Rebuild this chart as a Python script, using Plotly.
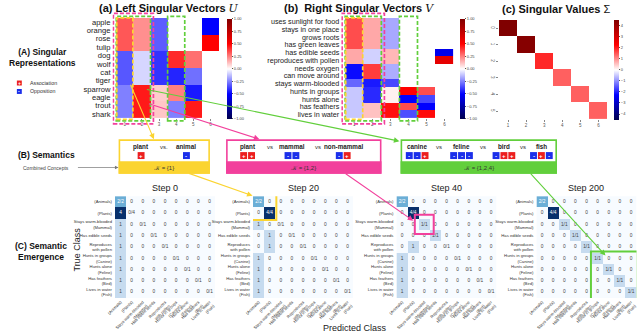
import plotly.graph_objects as go

W, H = 640, 335
FONT = "Liberation Sans, Arial, sans-serif"

# ---------------- data ----------------
u_rows = ["apple", "orange", "rose", "tulip", "dog", "wolf", "cat", "tiger",
          "sparrow", "eagle", "trout", "shark"]
u_cols = [1, 2, 3, 4, 5, 6]
u_vals = [
    [0.33, 0.22, -0.32, 0.00, 0.00, -0.50],
    [0.33, 0.22, -0.32, 0.00, 0.00, -0.50],
    [0.33, 0.22, -0.32, 0.00, 0.00, 0.50],
    [0.33, 0.22, -0.32, 0.00, 0.00, 0.50],
    [-0.33, -0.08, -0.40, 0.42, 0.28, 0.00],
    [-0.33, -0.08, -0.40, 0.42, 0.28, 0.00],
    [-0.33, -0.08, -0.40, -0.43, -0.28, 0.00],
    [-0.33, -0.08, -0.40, -0.43, -0.28, 0.00],
    [-0.25, 0.45, 0.10, 0.25, -0.45, 0.00],
    [-0.25, 0.45, 0.10, 0.25, -0.45, 0.00],
    [-0.25, 0.45, 0.11, -0.25, 0.45, 0.00],
    [-0.25, 0.45, 0.11, -0.25, 0.45, 0.00],
]

v_rows = ["uses sunlight for food", "stays in one place", "grows roots",
          "has green leaves", "has edible seeds", "reproduces with pollen",
          "needs oxygen", "can move around", "stays warm-blooded",
          "hunts in groups", "hunts alone", "has feathers", "lives in water"]
v_cols = [1, 2, 3, 4, 5, 6]
v_vals = [
    [0.35, 0.17, -0.17, 0.00, 0.00, 0.00],
    [0.35, 0.17, -0.17, 0.00, 0.00, 0.00],
    [0.35, 0.17, -0.17, 0.00, 0.00, 0.00],
    [0.35, 0.17, -0.17, 0.00, 0.00, 0.00],
    [0.17, -0.09, 0.14, 0.00, 0.00, -0.55],
    [0.17, -0.09, 0.14, 0.00, 0.00, 0.60],
    [-0.48, 0.38, -0.16, 0.00, 0.00, 0.00],
    [-0.48, 0.38, -0.16, 0.00, 0.00, 0.00],
    [-0.30, -0.45, -0.36, 0.00, 0.00, 0.00],
    [-0.11, -0.42, 0.03, 0.50, 0.35, 0.00],
    [-0.11, -0.42, 0.03, -0.50, -0.36, 0.00],
    [-0.11, 0.12, 0.47, 0.35, -0.50, 0.00],
    [-0.11, 0.12, 0.47, -0.35, 0.48, 0.00],
]

sigma = [4.5, 4.4, 1.9, 1.4, 1.4, 1.4]
sigma_x = [1, 2, 3, 4, 5, 6]
sigma_y = ["0", "1", "2", "3", "4", "5"]

legend_labels = ["Association", "Opposition"]
legend_signs = ["+", "-"]

yellow_concepts = ["plant", "animal"]
yellow_signs = ["+", "-"]
yellow_K = [1]
pink_concepts = ["plant", "mammal", "non-mammal"]
pink_signs = ["++", "--", "-+"]
pink_K = [1, 2]
green_concepts = ["canine", "feline", "bird", "fish"]
green_signs = ["--+", "---", "-++", "-+-"]
green_K = [1, 2, 4]

class_labels = ["(Animals)", "(Plants)", "Stays warm-blooded<br>(Mammal)",
                "Has edible seeds", "Reproduces<br>with pollen",
                "Hunts in groups<br>(Canine)", "Hunts alone<br>(Feline)",
                "Has feathers<br>(Bird)", "Lives in water<br>(Fish)"]
class_totals = [2, 4, 1, 1, 1, 1, 1, 1, 1]
step_names = ["Step 0", "Step 20", "Step 40", "Step 200"]
counts_step0 = [
    [2, 0, 0, 0, 0, 0, 0, 0, 0],
    [4, 0, 0, 0, 0, 0, 0, 0, 0],
    [1, 0, 0, 0, 0, 0, 0, 0, 0],
    [1, 0, 0, 0, 0, 0, 0, 0, 0],
    [1, 0, 0, 0, 0, 0, 0, 0, 0],
    [1, 0, 0, 0, 0, 0, 0, 0, 0],
    [1, 0, 0, 0, 0, 0, 0, 0, 0],
    [1, 0, 0, 0, 0, 0, 0, 0, 0],
    [1, 0, 0, 0, 0, 0, 0, 0, 0],
]
counts_step20 = [
    [2, 0, 0, 0, 0, 0, 0, 0, 0],
    [0, 4, 0, 0, 0, 0, 0, 0, 0],
    [1, 0, 0, 0, 0, 0, 0, 0, 0],
    [0, 1, 0, 0, 0, 0, 0, 0, 0],
    [0, 1, 0, 0, 0, 0, 0, 0, 0],
    [1, 0, 0, 0, 0, 0, 0, 0, 0],
    [1, 0, 0, 0, 0, 0, 0, 0, 0],
    [1, 0, 0, 0, 0, 0, 0, 0, 0],
    [1, 0, 0, 0, 0, 0, 0, 0, 0],
]
counts_step40 = [
    [2, 0, 0, 0, 0, 0, 0, 0, 0],
    [0, 4, 0, 0, 0, 0, 0, 0, 0],
    [0, 0, 1, 0, 0, 0, 0, 0, 0],
    [0, 0, 0, 1, 0, 0, 0, 0, 0],
    [0, 1, 0, 0, 0, 0, 0, 0, 0],
    [1, 0, 0, 0, 0, 0, 0, 0, 0],
    [1, 0, 0, 0, 0, 0, 0, 0, 0],
    [1, 0, 0, 0, 0, 0, 0, 0, 0],
    [1, 0, 0, 0, 0, 0, 0, 0, 0],
]
counts_step200 = [
    [2, 0, 0, 0, 0, 0, 0, 0, 0],
    [0, 4, 0, 0, 0, 0, 0, 0, 0],
    [0, 0, 1, 0, 0, 0, 0, 0, 0],
    [0, 0, 0, 1, 0, 0, 0, 0, 0],
    [0, 0, 0, 0, 1, 0, 0, 0, 0],
    [0, 0, 0, 0, 0, 1, 0, 0, 0],
    [0, 0, 0, 0, 0, 0, 1, 0, 0],
    [0, 0, 0, 0, 0, 0, 0, 1, 0],
    [0, 0, 0, 0, 0, 0, 0, 0, 1],
]
step_counts = [counts_step0, counts_step20, counts_step40, counts_step200]

# ---------------- styling ----------------
YELLOW = "#fbd431"
PINK = "#f2409c"
GREEN = "#62cf3c"
RED_SQ = "#ec1f1f"
BLUE_SQ = "#1b2fea"
SEISMIC = [[0, "rgb(0,0,77)"], [0.25, "rgb(0,0,255)"], [0.5, "rgb(255,255,255)"],
           [0.75, "rgb(255,0,0)"], [1, "rgb(128,0,0)"]]
BLUES = [[0, "#f7fbff"], [0.125, "#deebf7"], [0.25, "#c6dbef"], [0.375, "#9ecae1"],
         [0.5, "#6baed6"], [0.625, "#4292c6"], [0.75, "#2171b5"], [0.875, "#08519c"],
         [1, "#08306b"]]


def X(p):
    return p / W


def Y(p):
    return 1 - p / H


fig = go.Figure()
shapes = []
annots = []


def cbar(x0, yc, tickvals, ticktext):
    return dict(x=X(x0), xanchor="left", y=Y(yc), yanchor="middle",
                len=100, lenmode="pixels", thickness=5, thicknessmode="pixels",
                outlinewidth=0, ticks="outside", ticklen=1.5, tickwidth=0.5,
                tickcolor="#555", tickvals=tickvals, ticktext=ticktext,
                tickfont=dict(size=4, color="#444"), xpad=0, ypad=0)


pm = [-1, -0.75, -0.5, -0.25, 0, 0.25, 0.5, 0.75, 1]
pm_txt = [("−" if v < 0 else "") + f"{abs(v):.2f}" for v in pm]
u_idx = list(range(len(u_rows)))
v_idx = list(range(len(v_rows)))
s_idx = list(range(len(sigma_y)))

# (a) U
fig.add_trace(go.Heatmap(z=u_vals, x=u_cols, y=u_idx, colorscale=SEISMIC, zmin=-1, zmax=1,
                         xaxis="x", yaxis="y", hoverinfo="skip",
                         colorbar=cbar(222, 68, pm, pm_txt)))
# (b) V
fig.add_trace(go.Heatmap(z=v_vals, x=v_cols, y=v_idx, colorscale=SEISMIC, zmin=-1, zmax=1,
                         xaxis="x2", yaxis="y2", hoverinfo="skip",
                         colorbar=cbar(458, 68, pm, pm_txt)))
# (c) Sigma
sig_z = [[s if i == j else 0 for j in range(len(sigma))] for i, s in enumerate(sigma)]
fig.add_trace(go.Heatmap(z=sig_z, x=sigma_x, y=s_idx, colorscale=SEISMIC, zmin=-4.5, zmax=4.5,
                         xaxis="x3", yaxis="y3", hoverinfo="skip",
                         colorbar=cbar(615, 69, list(range(-4, 5)),
                                       [("−" if v < 0 else "") + str(abs(v)) for v in range(-4, 5)])))

axis_common = dict(showgrid=False, zeroline=False, showline=False)
small_x = dict(ticks="outside", ticklen=1.5, tickcolor="#888", tickfont=dict(size=4.5, color="#555"))
lay = {}
lay["xaxis"] = dict(domain=[X(106), X(214)], anchor="y", tickvals=u_cols, **small_x, **axis_common)
lay["yaxis"] = dict(domain=[Y(118), Y(17)], anchor="x", range=[len(u_rows) - 0.5, -0.5],
                    tickvals=u_idx, ticktext=u_rows,
                    tickfont=dict(size=7.6, color="#222"), ticklabelstandoff=1, **axis_common)
lay["xaxis2"] = dict(domain=[X(338), X(452)], anchor="y2", tickvals=v_cols, **small_x, **axis_common)
lay["yaxis2"] = dict(domain=[Y(118), Y(17)], anchor="x2", range=[len(v_rows) - 0.5, -0.5],
                     tickvals=v_idx, ticktext=v_rows,
                     tickfont=dict(size=7.2, color="#222"), ticklabelstandoff=1, **axis_common)
lay["xaxis3"] = dict(domain=[X(498), X(608)], anchor="y3", tickvals=sigma_x, **small_x, **axis_common)
lay["yaxis3"] = dict(domain=[Y(119), Y(19)], anchor="x3", range=[len(sigma_y) - 0.5, -0.5],
                     tickvals=s_idx, ticktext=sigma_y, tickangle=90, **small_x, **axis_common)

# confusion matrices
step_left = [108.5, 248.5, 394, 536]
cm_w = 101.5
cm_top, cm_bot = 196.3, 298.7
n = len(class_labels)
idx = list(range(n))
for k, counts in enumerate(step_counts):
    ax_i = k + 4
    xa, ya = f"x{ax_i}", f"y{ax_i}"
    fig.add_trace(go.Heatmap(z=counts, x=idx, y=idx, colorscale=BLUES, zmin=0, zmax=4,
                             showscale=False, xaxis=xa, yaxis=ya, hoverinfo="skip"))
    xs, ys, ts, cs = [], [], [], []
    for i in idx:
        for j in idx:
            c = counts[i][j]
            xs.append(j)
            ys.append(i)
            ts.append(f"{c}/{class_totals[i]}" if i == j else f"{c}")
            cs.append("white" if c >= 2 else "#444")
    fig.add_trace(go.Scatter(x=xs, y=ys, text=ts, mode="text", xaxis=xa, yaxis=ya,
                             textfont=dict(size=4.8, color=cs, family=FONT),
                             hoverinfo="skip", showlegend=False))
    lay[f"xaxis{ax_i}"] = dict(domain=[X(step_left[k]), X(step_left[k] + cm_w)], anchor=ya,
                               tickvals=idx, ticktext=class_labels, tickangle=-45,
                               tickfont=dict(size=4.2, color="#333"), range=[-0.5, n - 0.5],
                               **axis_common)
    lay[f"yaxis{ax_i}"] = dict(domain=[Y(cm_bot), Y(cm_top)], anchor=xa,
                               tickvals=idx, ticktext=class_labels, range=[n - 0.5, -0.5],
                               tickfont=dict(size=4.2, color="#333"), ticklabelstandoff=2,
                               **axis_common)
    annots.append(dict(x=X(step_left[k] + cm_w / 2), y=Y(188), text=step_names[k],
                       font=dict(size=9, color="#222")))


# dashed highlight boxes on U and V, from the K sets
def runs(cols):
    out, cur = [], [cols[0]]
    for c in cols[1:]:
        if c == cur[-1] + 1:
            cur.append(c)
        else:
            out.append(cur)
            cur = [c]
    out.append(cur)
    return out


for xa, ya in [("x", "y"), ("x2", "y2")]:
    for K, color, padx, pady in [(pink_K, PINK, 0.17, 0.045), (green_K, GREEN, 0.0, 0.015),
                                 (yellow_K, YELLOW, -0.03, 0.0)]:
        for r in runs(K):
            shapes.append(dict(type="rect", xref=xa, yref=f"{ya} domain",
                               x0=r[0] - 0.5 - padx, x1=r[-1] + 0.5 + padx,
                               y0=-pady - 0.01, y1=1 + pady,
                               line=dict(color=color, width=1.7, dash="4px,2px")))

# titles
title_font = dict(size=11, color="#111", family="Liberation Sans, Arial")
serif_it = "<i><span style='font-family:DejaVu Serif'>{}</span></i>"
annots += [
    dict(x=X(163), y=Y(8), text="<b>(a) Left Singular Vectors</b> " + serif_it.format("U"), font=title_font),
    dict(x=X(356), y=Y(8), text="<b>(b)  Right Singular Vectors</b> " + serif_it.format("V"), font=title_font),
    dict(x=X(556), y=Y(8), text="<b>(c) Singular Values</b> Σ", font=title_font),
    dict(x=X(35), y=Y(57), text="<b>(A) Singular<br>Representations</b>", font=dict(size=8.5, color="#111")),
    dict(x=X(8), y=Y(155), text="<b>(B) Semantics</b>", xanchor="left", font=dict(size=8.5, color="#111")),
    dict(x=X(33), y=Y(252), text="<b>(C) Semantic<br>Emergence</b>", font=dict(size=8.5, color="#111")),
    dict(x=X(69), y=Y(250), text="True Class", textangle=-90, font=dict(size=9, color="#222")),
    dict(x=X(352), y=Y(329), text="Predicted Class", font=dict(size=9, color="#222")),
    dict(x=X(13), y=Y(167.5), text="Combined Concepts", xanchor="left", font=dict(size=5, color="#444")),
]

# legend squares
for i, (lab, sg) in enumerate(zip(legend_labels, legend_signs)):
    yc = 82.5 + i * 8.5
    col = RED_SQ if sg == "+" else BLUE_SQ
    shapes.append(dict(type="rect", xref="paper", yref="paper", x0=X(9), x1=X(14),
                       y0=Y(yc + 2.5), y1=Y(yc - 2.5), fillcolor=col, line=dict(width=0)))
    annots.append(dict(x=X(11.5), y=Y(yc), text=f"<b>{sg}</b>", font=dict(size=5, color="white")))
    annots.append(dict(x=X(20), y=Y(yc), text=lab, xanchor="left", font=dict(size=5.3, color="#333")))


# semantic boxes
def concept_box(x0, x1, color, concepts, signs, K, centers, sep):
    y0, y1, yb = 140, 173, 162
    shapes.append(dict(type="rect", xref="paper", yref="paper", x0=X(x0), x1=X(x1),
                       y0=Y(y1), y1=Y(y0), fillcolor="white", line=dict(color=color, width=1.6)))
    shapes.append(dict(type="rect", xref="paper", yref="paper", x0=X(x0), x1=X(x1),
                       y0=Y(y1), y1=Y(yb), fillcolor=color, line=dict(color=color, width=1.6)))
    for i, (name, sg) in enumerate(zip(concepts, signs)):
        cx = centers[i]
        annots.append(dict(x=X(cx), y=Y(146.5), text=f"<b>{name}</b>", font=dict(size=6.3, color="#222")))
        s, g = 7, 1
        tot = len(sg) * s + (len(sg) - 1) * g
        for m, ch in enumerate(sg):
            sx = cx - tot / 2 + m * (s + g)
            shapes.append(dict(type="rect", xref="paper", yref="paper", x0=X(sx), x1=X(sx + s),
                               y0=Y(159), y1=Y(152), fillcolor=RED_SQ if ch == "+" else BLUE_SQ,
                               line=dict(width=0)))
            annots.append(dict(x=X(sx + s / 2), y=Y(155.5), text=f"<b>{ch}</b>",
                               font=dict(size=6, color="white")))
        if i < len(concepts) - 1:
            annots.append(dict(x=X((cx + centers[i + 1]) / 2), y=Y(146.5), text=sep,
                               font=dict(size=6, color="#333")))
    ktxt = "<i>𝒦</i> = {" + ",".join(str(k) for k in K) + "}"
    annots.append(dict(x=X((x0 + x1) / 2), y=Y(167.5), text=ktxt, font=dict(size=6, color="#333")))


concept_box(113, 204, YELLOW, yellow_concepts, yellow_signs, yellow_K, [135, 181], "vs.")
concept_box(222, 378, PINK, pink_concepts, pink_signs, pink_K, [243, 288, 340], "vs")
concept_box(399, 556, GREEN, green_concepts, green_signs, green_K, [415, 460, 503, 541], "vs")

# highlight boxes in the confusion matrices
for k, lo, hi, color, pad in [(1, 0, 1, YELLOW, 0.1), (2, 2, 2, PINK, 0.35), (3, 5, 8, GREEN, 0.1)]:
    ax_i = k + 4
    shapes.append(dict(type="rect", xref=f"x{ax_i}", yref=f"y{ax_i}",
                       x0=lo - 0.5 - pad, x1=hi + 0.5 + pad, y0=lo - 0.5 - pad, y1=hi + 0.5 + pad,
                       line=dict(color=color, width=2)))

# arrows (tail -> head, pixel coords)
arrows = [
    ((124, 83), (148, 139), YELLOW),
    ((143, 103), (255, 139), PINK),
    ((143, 89), (397, 141), GREEN),
    ((183, 173), (248, 196), YELLOW),
    ((342, 173), (411, 221), PINK),
    ((530, 173), (606, 256), GREEN),
    ((70, 167.5), (112, 167.5), "#777"),
]
for (tx, ty), (hx, hy), col in arrows:
    annots.append(dict(x=X(hx), y=Y(hy), ax=tx - hx, ay=ty - hy, xref="paper", yref="paper",
                       axref="pixel", ayref="pixel", showarrow=True, arrowhead=2,
                       arrowsize=1, arrowwidth=1.1 if col != "#777" else 0.7,
                       arrowcolor=col, text=""))

for a in annots:
    a.setdefault("xref", "paper")
    a.setdefault("yref", "paper")
    a.setdefault("showarrow", False)
    a.setdefault("xanchor", "center")
    a.setdefault("yanchor", "middle")

fig.update_layout(width=W, height=H, margin=dict(l=0, r=0, t=0, b=0),
                  paper_bgcolor="white", plot_bgcolor="white", showlegend=False,
                  font=dict(family=FONT, color="#222"),
                  shapes=shapes, annotations=annots, **lay)

fig.write_html("out.html", config={"displayModeBar": False},
               post_script="document.body.style.margin='0';")
